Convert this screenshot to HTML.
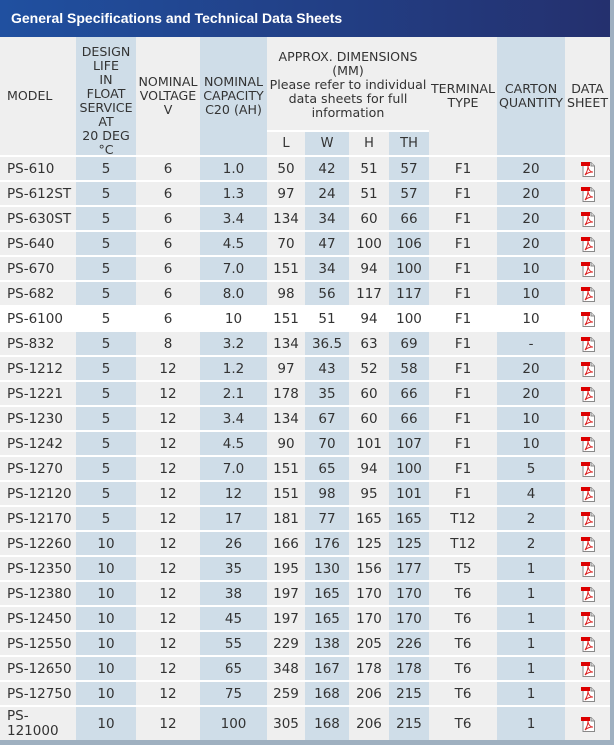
<!DOCTYPE html>
<html><head><meta charset="utf-8"><style>
*{margin:0;padding:0;box-sizing:border-box}
body{width:614px;height:745px;background:#9fb0c0;font-family:"DejaVu Sans","Liberation Sans",sans-serif;font-size:13.5px;color:#333;position:relative;overflow:hidden}
#wrap{position:absolute;left:0;top:0;width:610px;height:740px;background:#efefef}
#title{height:37px;background:linear-gradient(90deg,#2050a0,#24306e);color:#fff;font-weight:bold;line-height:37px;padding-left:11px;font-family:"Liberation Sans",sans-serif;font-size:14px}
#head{position:relative;height:118px;font-size:12.6px}
.h{position:absolute;top:0;height:118px;display:flex;align-items:center;justify-content:center;text-align:center;line-height:14px;white-space:nowrap}
.sh{background:#cfdde8}
.sub{position:absolute;top:93px;height:25px;border-top:2px solid #fff;display:flex;align-items:center;justify-content:center;font-size:13px}
.r{display:grid;grid-template-columns:76px 60px 64px 67px 38px 44px 40px 40px 68px 68px 45px;height:25px;border-top:2px solid #fff}
.r>div{display:flex;align-items:center;justify-content:center;white-space:nowrap}
.r>div:nth-child(2),.r>div:nth-child(4),.r>div:nth-child(6),.r>div:nth-child(8),.r>div:nth-child(10){background:#cfdde8}
.r>div:first-child{justify-content:flex-start;padding-left:7px}
.r.w>div{background:#fff!important}
.r.t{height:35px}
.p{width:16px;height:16px;display:block}
</style></head><body>
<svg width="0" height="0" style="position:absolute"><defs><symbol id="pdf" viewBox="0 0 16 16"><path d="M3 1.5h8l3.5 3.5v10.5H3z" fill="#fff" stroke="#888"/><path d="M11 1.5v3.5h3.5" fill="#ddd" stroke="#888"/><rect x="1" y="1" width="9" height="4" fill="#d00"/><path d="M5 14c2-3 3-6 3-9 0 3 2 6 5 6-3 0-6 1-8 3z" fill="none" stroke="#d22" stroke-width="1"/></symbol></defs></svg>
<div id="wrap">
<div id="title">General Specifications and Technical Data Sheets</div>
<div id="head">
<div class="h" style="left:0;width:76px;justify-content:flex-start;padding-left:7px">MODEL</div>
<div class="h sh" style="left:76px;width:60px;padding-top:10px">DESIGN<br>LIFE<br>IN<br>FLOAT<br>SERVICE<br>AT<br>20 DEG<br>°C</div>
<div class="h" style="left:136px;width:64px">NOMINAL<br>VOLTAGE<br>V</div>
<div class="h sh" style="left:200px;width:67px">NOMINAL<br>CAPACITY<br>C20 (AH)</div>
<div class="h" style="left:267px;width:162px;height:93px;padding-top:3px">APPROX. DIMENSIONS<br>(MM)<br>Please refer to individual<br>data sheets for full<br>information</div>
<div class="sub" style="left:267px;width:38px">L</div>
<div class="sub sh" style="left:305px;width:44px">W</div>
<div class="sub" style="left:349px;width:40px">H</div>
<div class="sub sh" style="left:389px;width:40px">TH</div>
<div class="h" style="left:429px;width:68px">TERMINAL<br>TYPE</div>
<div class="h sh" style="left:497px;width:68px">CARTON<br>QUANTITY</div>
<div class="h" style="left:565px;width:45px">DATA<br>SHEET</div>
</div>
<div class="r"><div>PS-610</div><div>5</div><div>6</div><div>1.0</div><div>50</div><div>42</div><div>51</div><div>57</div><div>F1</div><div>20</div><div><svg class="p"><use href="#pdf"/></svg></div></div>
<div class="r"><div>PS-612ST</div><div>5</div><div>6</div><div>1.3</div><div>97</div><div>24</div><div>51</div><div>57</div><div>F1</div><div>20</div><div><svg class="p"><use href="#pdf"/></svg></div></div>
<div class="r"><div>PS-630ST</div><div>5</div><div>6</div><div>3.4</div><div>134</div><div>34</div><div>60</div><div>66</div><div>F1</div><div>20</div><div><svg class="p"><use href="#pdf"/></svg></div></div>
<div class="r"><div>PS-640</div><div>5</div><div>6</div><div>4.5</div><div>70</div><div>47</div><div>100</div><div>106</div><div>F1</div><div>20</div><div><svg class="p"><use href="#pdf"/></svg></div></div>
<div class="r"><div>PS-670</div><div>5</div><div>6</div><div>7.0</div><div>151</div><div>34</div><div>94</div><div>100</div><div>F1</div><div>10</div><div><svg class="p"><use href="#pdf"/></svg></div></div>
<div class="r"><div>PS-682</div><div>5</div><div>6</div><div>8.0</div><div>98</div><div>56</div><div>117</div><div>117</div><div>F1</div><div>10</div><div><svg class="p"><use href="#pdf"/></svg></div></div>
<div class="r w"><div>PS-6100</div><div>5</div><div>6</div><div>10</div><div>151</div><div>51</div><div>94</div><div>100</div><div>F1</div><div>10</div><div><svg class="p"><use href="#pdf"/></svg></div></div>
<div class="r"><div>PS-832</div><div>5</div><div>8</div><div>3.2</div><div>134</div><div>36.5</div><div>63</div><div>69</div><div>F1</div><div>-</div><div><svg class="p"><use href="#pdf"/></svg></div></div>
<div class="r"><div>PS-1212</div><div>5</div><div>12</div><div>1.2</div><div>97</div><div>43</div><div>52</div><div>58</div><div>F1</div><div>20</div><div><svg class="p"><use href="#pdf"/></svg></div></div>
<div class="r"><div>PS-1221</div><div>5</div><div>12</div><div>2.1</div><div>178</div><div>35</div><div>60</div><div>66</div><div>F1</div><div>20</div><div><svg class="p"><use href="#pdf"/></svg></div></div>
<div class="r"><div>PS-1230</div><div>5</div><div>12</div><div>3.4</div><div>134</div><div>67</div><div>60</div><div>66</div><div>F1</div><div>10</div><div><svg class="p"><use href="#pdf"/></svg></div></div>
<div class="r"><div>PS-1242</div><div>5</div><div>12</div><div>4.5</div><div>90</div><div>70</div><div>101</div><div>107</div><div>F1</div><div>10</div><div><svg class="p"><use href="#pdf"/></svg></div></div>
<div class="r"><div>PS-1270</div><div>5</div><div>12</div><div>7.0</div><div>151</div><div>65</div><div>94</div><div>100</div><div>F1</div><div>5</div><div><svg class="p"><use href="#pdf"/></svg></div></div>
<div class="r"><div>PS-12120</div><div>5</div><div>12</div><div>12</div><div>151</div><div>98</div><div>95</div><div>101</div><div>F1</div><div>4</div><div><svg class="p"><use href="#pdf"/></svg></div></div>
<div class="r"><div>PS-12170</div><div>5</div><div>12</div><div>17</div><div>181</div><div>77</div><div>165</div><div>165</div><div>T12</div><div>2</div><div><svg class="p"><use href="#pdf"/></svg></div></div>
<div class="r"><div>PS-12260</div><div>10</div><div>12</div><div>26</div><div>166</div><div>176</div><div>125</div><div>125</div><div>T12</div><div>2</div><div><svg class="p"><use href="#pdf"/></svg></div></div>
<div class="r"><div>PS-12350</div><div>10</div><div>12</div><div>35</div><div>195</div><div>130</div><div>156</div><div>177</div><div>T5</div><div>1</div><div><svg class="p"><use href="#pdf"/></svg></div></div>
<div class="r"><div>PS-12380</div><div>10</div><div>12</div><div>38</div><div>197</div><div>165</div><div>170</div><div>170</div><div>T6</div><div>1</div><div><svg class="p"><use href="#pdf"/></svg></div></div>
<div class="r"><div>PS-12450</div><div>10</div><div>12</div><div>45</div><div>197</div><div>165</div><div>170</div><div>170</div><div>T6</div><div>1</div><div><svg class="p"><use href="#pdf"/></svg></div></div>
<div class="r"><div>PS-12550</div><div>10</div><div>12</div><div>55</div><div>229</div><div>138</div><div>205</div><div>226</div><div>T6</div><div>1</div><div><svg class="p"><use href="#pdf"/></svg></div></div>
<div class="r"><div>PS-12650</div><div>10</div><div>12</div><div>65</div><div>348</div><div>167</div><div>178</div><div>178</div><div>T6</div><div>1</div><div><svg class="p"><use href="#pdf"/></svg></div></div>
<div class="r"><div>PS-12750</div><div>10</div><div>12</div><div>75</div><div>259</div><div>168</div><div>206</div><div>215</div><div>T6</div><div>1</div><div><svg class="p"><use href="#pdf"/></svg></div></div>
<div class="r t"><div style="line-height:15px;white-space:normal">PS-<br>121000</div><div>10</div><div>12</div><div>100</div><div>305</div><div>168</div><div>206</div><div>215</div><div>T6</div><div>1</div><div><svg class="p"><use href="#pdf"/></svg></div></div>
</div>
</body></html>
